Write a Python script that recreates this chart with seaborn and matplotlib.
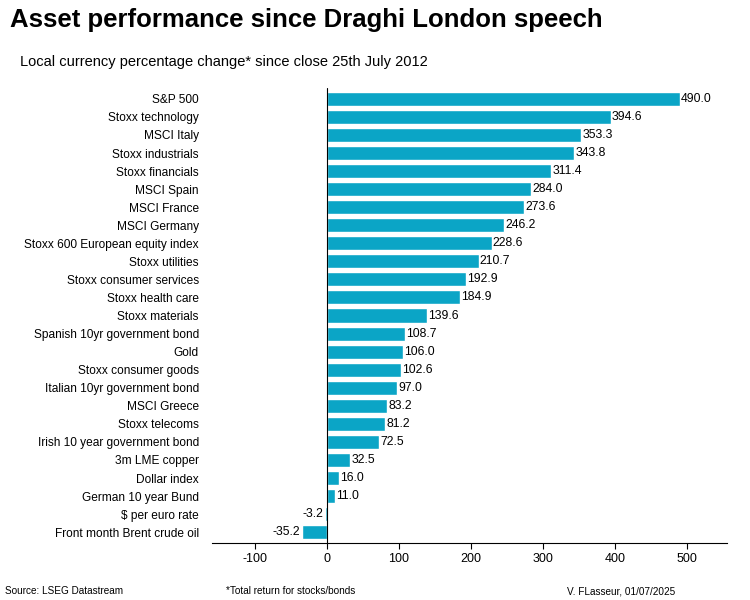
import matplotlib.pyplot as plt
import seaborn as sns
import pandas as pd

assets = ['S&P 500', 'Stoxx technology', 'MSCI Italy', 'Stoxx industrials', 'Stoxx financials',
          'MSCI Spain', 'MSCI France', 'MSCI Germany', 'Stoxx 600 European equity index',
          'Stoxx utilities', 'Stoxx consumer services', 'Stoxx health care', 'Stoxx materials',
          'Spanish 10yr government bond', 'Gold', 'Stoxx consumer goods',
          'Italian 10yr government bond', 'MSCI Greece', 'Stoxx telecoms',
          'Irish 10 year government bond', '3m LME copper', 'Dollar index',
          'German 10 year Bund', '$ per euro rate', 'Front month Brent crude oil']
change = [490.0, 394.6, 353.3, 343.8, 311.4, 284.0, 273.6, 246.2, 228.6, 210.7, 192.9, 184.9,
          139.6, 108.7, 106.0, 102.6, 97.0, 83.2, 81.2, 72.5, 32.5, 16.0, 11.0, -3.2, -35.2]

df = pd.DataFrame({'asset': assets, 'change': change})

sns.set_style('white')
plt.rcParams['font.family'] = ['Liberation Sans', 'DejaVu Sans']
plt.rcParams['text.color'] = 'black'
plt.rcParams['xtick.color'] = 'black'
plt.rcParams['ytick.color'] = 'black'
plt.rcParams['axes.unicode_minus'] = False

fig = plt.figure(figsize=(7.5, 6), dpi=100)
ax = fig.add_axes([212/750, 1-543/600, 515/750, 455/600])
sns.barplot(data=df, y='asset', x='change', color='#0ba5c6', saturation=1, width=0.78, ax=ax)

for i, v in enumerate(change):
    ax.text(v + (1.5 if v >= 0 else -2), i, f'{v:.1f}', va='center',
            ha='left' if v >= 0 else 'right', fontsize=8.8)

ax.set_xlim(-160, 556)
ax.set_ylim(len(assets) - 0.4, -0.6)
ax.axvline(0, color='black', lw=0.8)
for s in ['top', 'right', 'left']:
    ax.spines[s].set_visible(False)
ax.spines['bottom'].set_color('black')
ax.spines['bottom'].set_linewidth(0.8)
ax.set_xticks([-100, 0, 100, 200, 300, 400, 500])
ax.tick_params(axis='x', bottom=True, length=4, labelsize=9)
ax.tick_params(axis='y', left=False, labelsize=8.6, pad=6)
ax.set_xlabel('')
ax.set_ylabel('')

fig.text(10/750, 1-20/600, 'Asset performance since Draghi London speech',
         fontsize=18.5, fontweight='bold', va='center')
fig.text(20/750, 1-62/600, 'Local currency percentage change* since close 25th July 2012',
         fontsize=10.5, va='center')
fig.text(5/750, 1-591/600, 'Source: LSEG Datastream', fontsize=7.2, va='center')
fig.text(226/750, 1-591/600, '*Total return for stocks/bonds', fontsize=7.2, va='center')
fig.text(675/750, 1-591/600, 'V. FLasseur, 01/07/2025', fontsize=7.2, va='center', ha='right')

fig.savefig('out.png', dpi=100)
